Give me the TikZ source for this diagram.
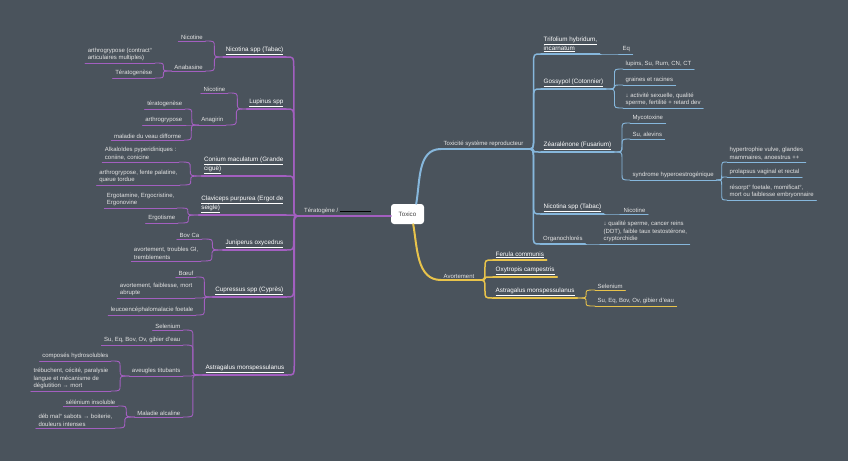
\documentclass[tikz,border=0pt]{standalone}
\usepackage{fontspec}
\setmainfont{Liberation Sans}
\usetikzlibrary{calc}
\definecolor{bgc}{HTML}{4A535C}
\definecolor{pur}{HTML}{A35FC0}
\definecolor{blu}{HTML}{86B7DC}
\definecolor{yel}{HTML}{E8C34B}
\definecolor{txt}{HTML}{E4E4E4}
\tikzset{
 conn/.style={to path={let \p1=(\tikztostart),\p2=(\tikztotarget),
   \n1={max(-#1,min(#1,(\y2-\y1)/2))}, \n2={(\x1+\x2)/2} in
   (\p1) .. controls (\n2,\y1) .. (\n2,\y1+\n1) -- (\n2,\y2-\n1) .. controls (\n2,\y2) .. (\p2)}},
 conn/.default=6pt,
 base/.style={font=\fontsize{6}{7.6}\selectfont, text=txt, inner xsep=2.5pt, inner ysep=1.7pt, align=left},
 lvA/.style={base, font=\fontsize{6.3}{7.8}\selectfont, text=white},
 le/.style={anchor=south east}, ri/.style={anchor=south west},
 pA/.style={draw=pur, line width=1.5pt, line cap=round},
 pB/.style={draw=pur, line width=0.9pt, line cap=round},
 bA/.style={draw=blu, line width=1.5pt, line cap=round},
 bB/.style={draw=blu, line width=0.9pt, line cap=round},
 yA/.style={draw=yel, line width=1.5pt, line cap=round},
 yB/.style={draw=yel, line width=0.9pt, line cap=round},
}
\begin{document}
\begin{tikzpicture}[x=1pt,y=-1pt]
\fill[bgc] (0,0) rectangle (848,461);
\useasboundingbox (0,0) rectangle (848,461);

% centre
\node[fill=white, rounded corners=3pt, minimum width=33pt, minimum height=20pt, inner sep=0pt,
  text=black!75, font=\fontsize{6.2}{7}\selectfont] (tox) at (407.5,214) {Toxico};

% ---------- left (purple) ----------
\node[base, ri] (ter) at (301.5,216) {Tératogène / \textcolor{black}{\rule[0.4pt]{31pt}{1.2pt}}};

\node[lvA, le] (nico) at (286,57) {\underline{Nicotina spp (Tabac)}};
\node[lvA, le] (lupi) at (286,109) {\underline{Lupinus spp}};
\node[lvA, le] (coni) at (286,176) {\underline{Conium maculatum (Grande}\\\underline{ciguë)}};
\node[lvA, le] (clav) at (286,215) {\underline{Claviceps purpurea (Ergot de}\\\underline{seigle)}};
\node[lvA, le] (juni) at (286,250) {\underline{Juniperus oxycedrus}};
\node[lvA, le] (cupr) at (286,297) {\underline{Cupressus spp (Cyprès)}};
\node[lvA, le] (astl) at (287,375) {\underline{Astragalus monspessulanus}};

\node[base, le] (nNic) at (205.5,41) {Nicotine};
\node[base, le] (nAna) at (205.5,71) {Anabasine};
\node[base, le] (nArt) at (155,63) {arthrogrypose (contract°\\articulaires multiples)};
\node[base, le] (nTer) at (155,78) {Tératogenèse};

\node[base, le] (lNic) at (228,93) {Nicotine};
\node[base, le] (lAna) at (226,125) {Anagirin};
\node[base, le] (lTer) at (185,109) {tératogenèse};
\node[base, le] (lArt) at (185,125) {arthrogrypose};
\node[base, le] (lMal) at (184,140) {maladie du veau difforme};

\node[base, le] (cAlk) at (179,162) {Alkaloïdes pyperidiniques :\\coniine, conicine};
\node[base, le] (cArt) at (180,185) {arthrogrypose, fente palatine,\\queue tordue};

\node[base, le] (vErg) at (177,208) {Ergotamine, Ergocristine,\\Ergonovine};
\node[base, le] (vIsm) at (178,223) {Ergotisme};

\node[base, le] (jBov) at (202,239) {Bov Ca};
\node[base, le] (jAvo) at (201,261) {avortement, troubles GI,\\tremblements};

\node[base, le] (uBoe) at (196,277) {Bœuf};
\node[base, le] (uAvo) at (195,298) {avortement, faiblesse, mort\\abrupte};
\node[base, le] (uLeu) at (196,315) {leucoencéphalomalacie foetale};

\node[base, le] (aSel) at (183,330) {Selenium};
\node[base, le] (aSu) at (183,345) {Su, Eq, Bov, Ov, gibier d'eau};
\node[base, le] (aAve) at (183,376) {aveugles titubants};
\node[base, le] (aMal) at (183,417) {Maladie alcaline};
\node[base, le] (aCom) at (111,361) {composés hydrosolubles};
\node[base, le] (aTre) at (111,391) {trébuchent, cécité, paralysie\\langue et mécanisme de\\déglutition → mort};
\node[base, le] (aSin) at (118,406) {sélénium insoluble};
\node[base, le] (aDeb) at (115,428) {déb mal° sabots → boiterie,\\douleurs intenses};

% ---------- right (blue) ----------
\node[base, ri] (toxp) at (441,149) {Toxicité système reproducteur};
\node[lvA, ri] (trif) at (541,54) {\underline{Trifolium hybridum,}\\\underline{incarnatum}};
\node[lvA, ri] (goss) at (541,89) {\underline{Gossypol (Cotonnier)}};
\node[lvA, ri] (zear) at (541,152) {\underline{Zéaralénone (Fusarium)}};
\node[lvA, ri] (nicr) at (541,214) {\underline{Nicotina spp (Tabac)}};
\node[base, ri] (orga) at (540.5,244) {Organochlorés};

\node[base, ri] (eq) at (620,54) {Eq};
\node[base, ri] (gLup) at (623,69) {lupins, Su, Rum, CN, CT};
\node[base, ri] (gGra) at (623,85) {graines et racines};
\node[base, ri] (gAct) at (623,108) {↓ activité sexuelle, qualité\\sperme, fertilité + retard dev};
\node[base, ri] (zMyc) at (630,123) {Mycotoxine};
\node[base, ri] (zSu) at (630,139) {Su, alevins};
\node[base, ri] (zSyn) at (630,180) {syndrome hyperoestrogénique};
\node[base, ri] (sHyp) at (727,162) {hypertrophie vulve, glandes\\mammaires, anoestrus ++};
\node[base, ri] (sPro) at (727,177) {prolapsus vaginal et rectal};
\node[base, ri] (sRes) at (727,200) {résorpt° foetale, momificat°,\\mort ou faiblesse embryonnaire};
\node[base, ri] (rNic) at (621,214) {Nicotine};
\node[base, ri] (oQua) at (601,244) {↓ qualité sperme, cancer reins\\(DDT), faible taux testostérone,\\cryptorchidie};

% ---------- right (yellow) ----------
\node[base, ri] (avort) at (441,280) {Avortement};
\node[lvA, ri] (feru) at (493,260) {\underline{Ferula communis}};
\node[lvA, ri] (oxyt) at (493,277) {\underline{Oxytropis campestris}};
\node[lvA, ri] (asty) at (493,298) {\underline{Astragalus monspessulanus}};
\node[base, ri] (ySel) at (595,290) {Selenium};
\node[base, ri] (ySu) at (595,306) {Su, Eq, Bov, Ov, gibier d'eau};

% ---------- underlines ----------
\draw[pA, line width=2pt] (ter.south west) -- (tox.west |- ter.south);
\draw[bA, line width=2pt] (toxp.south west) -- (toxp.south east);
\draw[yA, line width=2pt] (avort.south west) -- (avort.south east);
\foreach \X in {nico,lupi,coni,clav,juni,cupr,astl} \draw[pA] (\X.south west) -- (\X.south east);
\foreach \X in {nNic,nAna,nArt,nTer,lNic,lAna,lTer,lArt,lMal,cAlk,cArt,vErg,vIsm,jBov,jAvo,uBoe,uAvo,uLeu,aSel,aSu,aAve,aMal,aCom,aTre,aSin,aDeb}
  \draw[pB] (\X.south west) -- (\X.south east);
\foreach \X in {trif,goss,zear,nicr,orga} \draw[bA] (\X.south west) -- (\X.south east);
\foreach \X in {eq,gLup,gGra,gAct,zMyc,zSu,zSyn,sHyp,sPro,sRes,rNic,oQua} \draw[bB] (\X.south west) -- (\X.south east);
\foreach \X in {feru,oxyt,asty} \draw[yA] (\X.south west) -- (\X.south east);
\foreach \X in {ySel,ySu} \draw[yB] (\X.south west) -- (\X.south east);

% ---------- connectors ----------
\draw[bA, line width=2pt] ([xshift=-8pt]tox.north east) to[out=80,in=180] (toxp.south west);
\draw[yA, line width=2pt] ([xshift=-11pt]tox.south east) to[out=-80,in=180] (avort.south west);

\foreach \X in {nico,lupi,coni,clav,juni,cupr,astl} \draw[pA] (\X.south east) to[conn=10pt] (ter.south west);
\foreach \X/\Y in {nNic/nico,nAna/nico,nArt/nAna,nTer/nAna,lNic/lupi,lAna/lupi,lTer/lAna,lArt/lAna,lMal/lAna,
  cAlk/coni,cArt/coni,vErg/clav,vIsm/clav,jBov/juni,jAvo/juni,uBoe/cupr,uAvo/cupr,uLeu/cupr,
  aSel/astl,aSu/astl,aAve/astl,aMal/astl,aCom/aAve,aTre/aAve,aSin/aMal,aDeb/aMal}
  \draw[pB] (\X.south east) to[conn] (\Y.south west);

\foreach \X in {trif,goss,zear,nicr,orga} \draw[bA] (toxp.south east) to[conn=10pt] (\X.south west);
\foreach \X/\Y in {trif/eq,goss/gLup,goss/gGra,goss/gAct,zear/zMyc,zear/zSu,zear/zSyn,zSyn/sHyp,zSyn/sPro,zSyn/sRes,nicr/rNic,orga/oQua}
  \draw[bB] (\X.south east) to[conn] (\Y.south west);

\foreach \X in {feru,oxyt,asty} \draw[yA] (avort.south east) to[conn=8pt] (\X.south west);
\foreach \X in {ySel,ySu} \draw[yB] (asty.south east) to[conn] (\X.south west);
\end{tikzpicture}
\end{document}
